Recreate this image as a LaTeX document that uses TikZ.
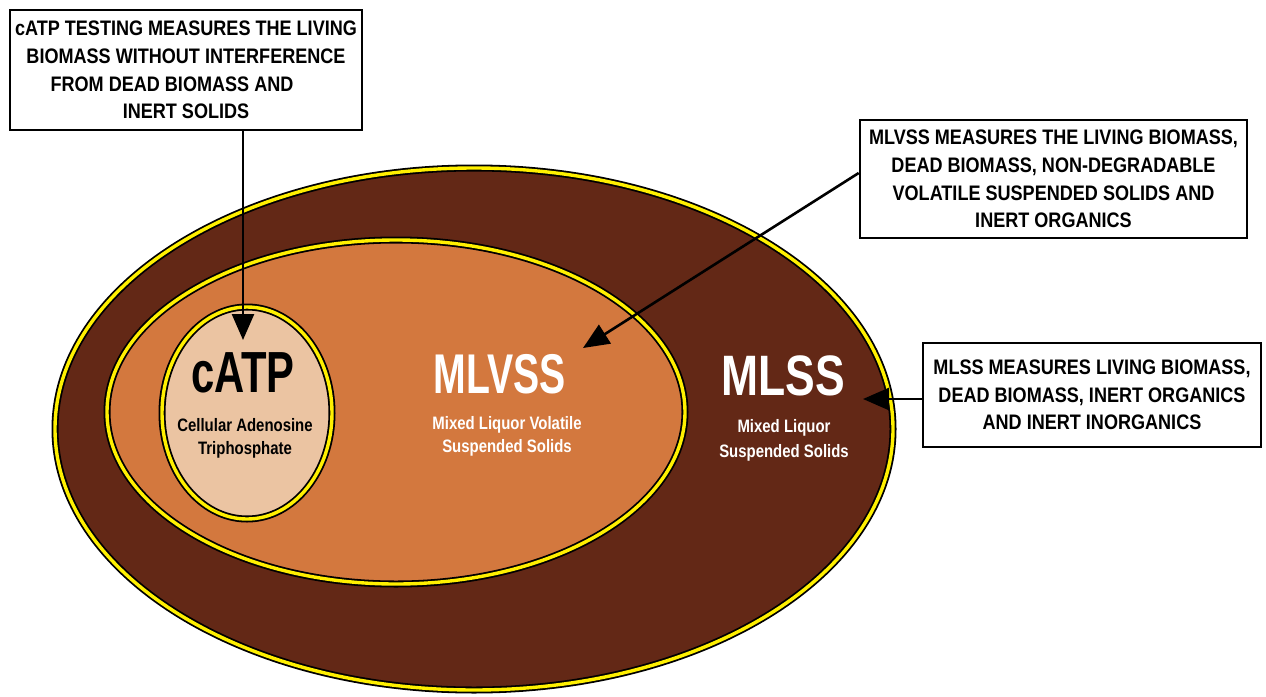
\documentclass[tikz,border=0pt]{standalone}
\usepackage{fontspec}
\setmainfont{Liberation Sans}
\newfontfamily\boxfont[FakeStretch=0.86]{Liberation Sans}
\newfontfamily\subfont[FakeStretch=0.83]{Liberation Sans}
\newfontfamily\catpfont[FakeStretch=0.72]{Liberation Sans}
\newfontfamily\mlvssfont[FakeStretch=0.70]{Liberation Sans}
\newfontfamily\mlssfont[FakeStretch=0.78]{Liberation Sans}
\usetikzlibrary{shapes.geometric,arrows.meta}
\definecolor{outerbrown}{RGB}{99,40,22}
\definecolor{innerorange}{RGB}{211,120,62}
\definecolor{catpfill}{RGB}{235,196,162}
\definecolor{ringyellow}{RGB}{255,240,0}
\begin{document}
\begin{tikzpicture}[x=1pt,y=-1pt,
  ring/.style={ellipse, draw=black, double=ringyellow, double distance=3.4pt, line width=1.8pt, inner sep=0pt},
  infobox/.style={draw=black, line width=2.6pt, fill=white, inner sep=0pt, align=center,
    font=\boxfont\bfseries\fontsize{21}{27.7}\selectfont},
  bigtitle/.style={anchor=base, inner sep=0pt},
  subtitle/.style={anchor=center, align=center, inner sep=0pt},
  conn/.style={line width=2.6pt, -{Triangle[length=26pt,width=22pt]}}]
\useasboundingbox (0,0) rectangle (1266,696);
% ellipses
\node[ring, fill=outerbrown, minimum width=838pt, minimum height=522pt] (mlss) at (474,429) {};
\node[ring, fill=innerorange, minimum width=578pt, minimum height=344pt] (mlvss) at (396,412) {};
\node[ring, fill=catpfill, minimum width=170pt, minimum height=212pt] (catp) at (247,413) {};
% labels
\node[bigtitle, font=\catpfont\bfseries\fontsize{58}{58}\selectfont] (catpT) at (243,392) {cATP};
\node[subtitle, font=\subfont\bfseries\fontsize{18}{23}\selectfont] (catpS) at (245,438.5) {Cellular Adenosine\\Triphosphate};
\node[bigtitle, text=white, font=\mlvssfont\bfseries\fontsize{56}{56}\selectfont] (mlvssT) at (500,393) {MLVSS};
\node[subtitle, text=white, font=\subfont\bfseries\fontsize{18}{23}\selectfont] (mlvssS) at (507,436.5) {Mixed Liquor Volatile\\Suspended Solids};
\node[bigtitle, text=white, font=\mlssfont\bfseries\fontsize{57}{57}\selectfont] (mlssT) at (783,395) {MLSS};
\node[subtitle, text=white, font=\subfont\bfseries\fontsize{18}{25}\selectfont] (mlssS) at (784,440) {Mixed Liquor\\Suspended Solids};
% boxes
\node[infobox, minimum width=352pt, minimum height=120pt] (box1) at (186,70)
  {cATP TESTING MEASURES THE LIVING\\BIOMASS WITHOUT INTERFERENCE\\FROM DEAD BIOMASS AND\rule{28pt}{0pt}\\INERT SOLIDS};
\node[infobox, minimum width=387pt, minimum height=118pt] (box2) at (1053.5,179)
  {MLVSS MEASURES THE LIVING BIOMASS,\\DEAD BIOMASS, NON-DEGRADABLE\\VOLATILE SUSPENDED SOLIDS AND\\INERT ORGANICS};
\node[infobox, minimum width=338pt, minimum height=104pt] (box3) at (1092,395)
  {MLSS MEASURES LIVING BIOMASS,\\DEAD BIOMASS, INERT ORGANICS\\AND INERT INORGANICS};
% connectors
\coordinate (t1) at (243,340);
\coordinate (t2) at (583,348);
\coordinate (t3) at (863,399);
\draw[conn] (box1.south -| t1) -- (t1);
\draw[conn] ([yshift=6pt]box2.west) -- (t2);
\draw[conn] (box3.west |- t3) -- (t3);
\end{tikzpicture}
\end{document}
